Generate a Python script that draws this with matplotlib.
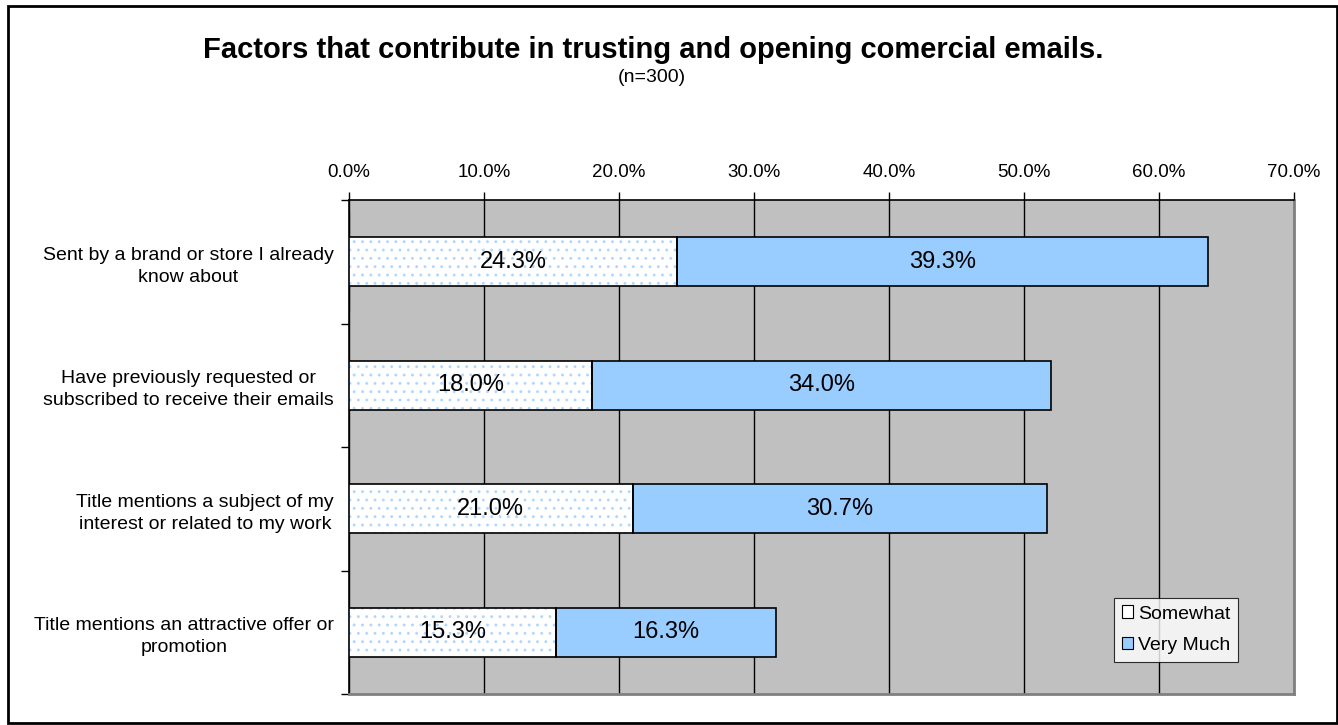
import numpy as np
import matplotlib.pyplot as plt
from matplotlib.patches import Rectangle

plt.rcParams['font.family'] = ['Liberation Sans', 'DejaVu Sans']
plt.rcParams['hatch.linewidth'] = 0.9

categories = [
    "Sent by a brand or store I already\nknow about",
    "Have previously requested or\nsubscribed to receive their emails",
    "Title mentions a subject of my\ninterest or related to my work",
    "Title mentions an attractive offer or\npromotion",
]
somewhat = [24.3, 18.0, 21.0, 15.3]
very_much = [39.3, 34.0, 30.7, 16.3]
xticks = np.arange(0, 71, 10)

fig = plt.figure(figsize=(13.38, 7.25), dpi=100)
ax = fig.add_axes([349/1338, 1 - 694/725, 945/1338, 494/725])
ax.set_facecolor('#c0c0c0')

y = np.arange(len(categories))
h = 0.4

# dotted fill for "Somewhat", then the outline on top
ax.barh(y, somewhat, height=h, color='white', edgecolor='#b0d8ff', hatch='..',
        linewidth=0, zorder=3)
ax.barh(y, somewhat, height=h, fill=False, edgecolor='black', linewidth=1.2,
        zorder=4)
ax.barh(y, very_much, left=somewhat, height=h, color='#99ccff',
        edgecolor='black', linewidth=1.2, zorder=3)

for i in range(len(categories)):
    ax.text(somewhat[i] / 2, y[i], f"{somewhat[i]:.1f}%", ha='center',
            va='center', fontsize=17, zorder=5)
    ax.text(somewhat[i] + very_much[i] / 2, y[i], f"{very_much[i]:.1f}%",
            ha='center', va='center', fontsize=17, zorder=5)

# legend proxies
ax.barh([0], [0], color='white', edgecolor='black', linewidth=0.8, label='Somewhat')
ax.barh([0], [0], color='#99ccff', edgecolor='black', linewidth=0.8, label='Very Much')
leg = ax.legend(loc='lower right', bbox_to_anchor=(0.941, 0.065), fontsize=14,
                frameon=True, fancybox=False, handlelength=0.6, handleheight=0.6,
                handletextpad=0.25, borderpad=0.4, labelspacing=0.75,
                borderaxespad=0)
leg.get_frame().set_edgecolor('black')
leg.get_frame().set_linewidth(0.8)
leg.set_zorder(6)

ax.set_xlim(0, 70)
ax.set_ylim(len(categories) - 0.5, -0.5)
ax.set_xticks(xticks)
ax.set_xticklabels([f"{v:.1f}%" for v in xticks], fontsize=13.5)
ax.xaxis.tick_top()
ax.tick_params(axis='x', length=6, width=1, pad=8, color='black')
ax.grid(axis='x', color='black', linewidth=1, zorder=1)

ax.set_yticks(np.arange(-0.5, len(categories)), labels=[], minor=False)
ax.set_yticks(y, labels=categories, minor=True)
ax.tick_params(axis='y', which='major', length=6, width=1)
ax.tick_params(axis='y', which='minor', length=0, pad=11, labelsize=14)
for lab in ax.get_yticklabels(minor=True):
    lab.set_multialignment('center')
    lab.set_linespacing(1.4)

ax.spines['left'].set_color('black')
ax.spines['left'].set_linewidth(1.2)
ax.spines['top'].set_color('black')
ax.spines['top'].set_linewidth(1.2)
for s in ['right', 'bottom']:
    ax.spines[s].set_color('#808080')
    ax.spines[s].set_linewidth(2)

fig.text(653/1338, 1 - 50/725, "Factors that contribute in trusting and opening comercial emails.",
         ha='center', va='center', fontsize=21, fontweight='bold')
fig.text(652/1338, 1 - 78/725, "(n=300)", ha='center', va='center', fontsize=14)

fig.patches.append(Rectangle((8/1338, 1 - 723/725), 1329/1338, 717/725,
                             transform=fig.transFigure, fill=False,
                             edgecolor='black', linewidth=2))

fig.savefig('out.png', dpi=100)
